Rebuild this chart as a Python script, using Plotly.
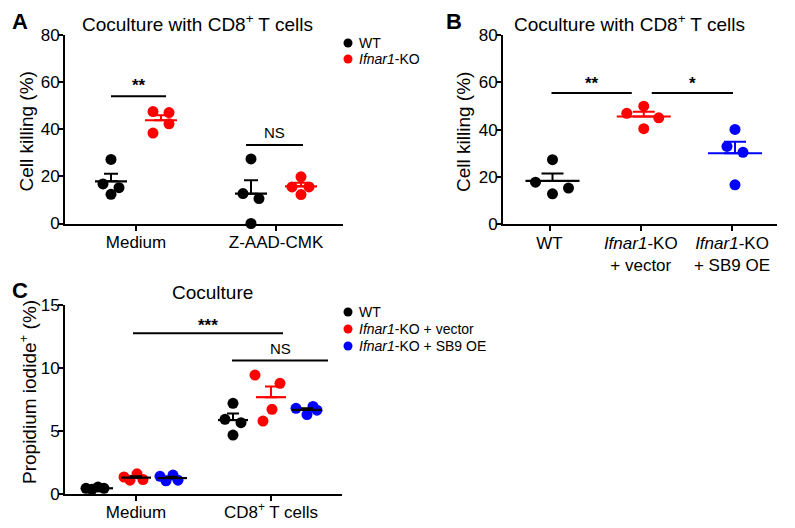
import numpy as np
import plotly.graph_objects as go

# ---------------- data ----------------
A_categories = ["Medium", "Z-AAD-CMK"]
A_series = ["WT", "<i>Ifnar1</i>-KO"]
A_wt = [[27.2, 16.8, 15.2, 12.4], [27.4, 12.7, 10.6, 0.0]]
A_ko = [[47.5, 47.1, 42.3, 38.4], [19.8, 15.5, 15.5, 12.3]]

B_categories = ["WT", "<i>Ifnar1</i>-KO<br>+ vector", "<i>Ifnar1</i>-KO<br>+ SB9 OE"]
B_values = [[27.3, 17.8, 15.3, 12.9], [49.9, 46.9, 45.0, 40.4], [40.1, 32.9, 30.4, 16.7]]

C_categories = ["Medium", "CD8<sup>+</sup> T cells"]
C_series = ["WT", "<i>Ifnar1</i>-KO + vector", "<i>Ifnar1</i>-KO + SB9 OE"]
C_wt = [[0.45, 0.37, 0.55, 0.45], [7.2, 5.93, 5.66, 4.68]]
C_vec = [[1.35, 1.1, 1.6, 1.15], [9.44, 8.78, 6.72, 5.79]]
C_sb9 = [[1.4, 1.05, 1.5, 1.1], [6.8, 6.95, 6.3, 6.65]]

# ---------------- style / layout ----------------
W, H = 795, 528
OFF = 8  # page body margin
FONT = "Arial, Liberation Sans, sans-serif"
BLACK, RED, BLUE = "#000000", "#ff0000", "#0000ff"


def px2x(p):
    return (p - OFF) / W


def px2y(p):
    return 1 - (p - OFF) / H


fig = go.Figure()


def setup_axes(idx, xpx, ypx, cat_px, cats, yrange, ytickvals):
    scale = (cat_px[-1] - cat_px[0]) / (len(cat_px) - 1)
    xr = [(xpx[0] - cat_px[0]) / scale, (xpx[1] - cat_px[0]) / scale]
    sfx = "" if idx == 1 else str(idx)
    common = dict(showline=True, linewidth=2, linecolor=BLACK, ticks="outside",
                  ticklen=5, tickwidth=2, tickcolor=BLACK, showgrid=False,
                  zeroline=False, fixedrange=True, automargin=False,
                  tickfont=dict(family=FONT, size=17, color=BLACK))
    fig.update_layout(**{
        "xaxis" + sfx: dict(domain=[px2x(xpx[0]), px2x(xpx[1])], range=xr,
                            tickvals=list(range(len(cats))), ticktext=cats,
                            anchor="y" + sfx, ticklabelstandoff=-3, **common),
        "yaxis" + sfx: dict(domain=[px2y(ypx[0]), px2y(ypx[1])], range=yrange,
                            tickvals=ytickvals, anchor="x" + sfx,
                            ticklabelstandoff=-5, **common),
    })
    return scale


def draw_group(idx, xc, vals, jitter_px, scale, color, line_color, half_line_px, cap_px, msize=11):
    sfx = "" if idx == 1 else str(idx)
    xs = [xc + j / scale for j in jitter_px]
    fig.add_trace(go.Scatter(x=xs, y=vals, mode="markers", cliponaxis=False,
                             marker=dict(size=msize, color=color, line=dict(width=0)),
                             xaxis="x" + sfx, yaxis="y" + sfx, showlegend=False,
                             hoverinfo="skip"))
    arr = np.array(vals, dtype=float)
    m = arr.mean()
    sem = arr.std(ddof=1) / np.sqrt(len(arr))
    hl = half_line_px / scale
    fig.add_trace(go.Scatter(x=[xc - hl, xc + hl], y=[m, m], mode="lines", cliponaxis=False,
                             line=dict(color=line_color, width=2.2),
                             xaxis="x" + sfx, yaxis="y" + sfx, showlegend=False,
                             hoverinfo="skip"))
    fig.add_trace(go.Scatter(x=[xc], y=[m], mode="markers", cliponaxis=False,
                             marker=dict(size=1, color="rgba(0,0,0,0)"),
                             error_y=dict(type="data", symmetric=False, array=[sem],
                                          arrayminus=[0], color=line_color,
                                          thickness=2, width=cap_px),
                             xaxis="x" + sfx, yaxis="y" + sfx, showlegend=False,
                             hoverinfo="skip"))


def sig_bar(idx, x0, x1, y, text, ty, tsize=17, bold=True):
    sfx = "" if idx == 1 else str(idx)
    fig.add_shape(type="line", x0=x0, x1=x1, y0=y, y1=y, xref="x" + sfx, yref="y" + sfx,
                  line=dict(color=BLACK, width=2))
    fig.add_annotation(x=(x0 + x1) / 2, y=ty, xref="x" + sfx, yref="y" + sfx,
                       text=("<b>%s</b>" % text) if bold else text, showarrow=False,
                       font=dict(family=FONT, size=tsize, color=BLACK),
                       xanchor="center", yanchor="middle")


def text_px(x, y, text, size, xanchor="center", angle=0):
    fig.add_annotation(x=px2x(x), y=px2y(y), xref="paper", yref="paper", text=text,
                       showarrow=False, textangle=angle,
                       font=dict(family=FONT, size=size, color=BLACK),
                       xanchor=xanchor, yanchor="middle")


def legend_px(x, y, label, color):
    fig.add_shape(type="circle", xref="paper", yref="paper", xsizemode="pixel",
                  ysizemode="pixel", xanchor=px2x(x), yanchor=px2y(y),
                  x0=-4.5, x1=4.5, y0=-4.5, y1=4.5,
                  fillcolor=color, line=dict(width=0))
    text_px(x + 9, y, label, 14, xanchor="left")


# ---------------- panel A ----------------
sA = setup_axes(1, (65, 343), (223.5, 35), (136, 276), A_categories, [0, 80], [0, 20, 40, 60, 80])
A_jit_wt = [[0, -8, 8, 0], [0, -8, 8, 0]]
A_jit_ko = [[-8, 8, 8, -8], [0, -9, 8, 0]]
for i in range(len(A_categories)):
    draw_group(1, i - 25 / sA, A_wt[i], A_jit_wt[i], sA, BLACK, BLACK, 16, 7)
    draw_group(1, i + 25 / sA, A_ko[i], A_jit_ko[i], sA, RED, RED, 16, 7)
sig_bar(1, 0 - 25 / sA, 0 + 30 / sA, 54, "**", 58.5)
sig_bar(1, 1 - 30 / sA, 1 + 27 / sA, 33.3, "NS", 38.8, tsize=15, bold=False)
text_px(197, 23, "Coculture with CD8<sup>+</sup> T cells", 19)
text_px(20, 22, "<b>A</b>", 22)
text_px(25.5, 132, "Cell killing (%)", 19, angle=-90)
legend_px(348, 43, A_series[0], BLACK)
legend_px(348, 59, A_series[1], RED)

# ---------------- panel B ----------------
sB = setup_axes(2, (503, 777), (224.3, 35), (549.5, 641, 732), B_categories, [0, 80], [0, 20, 40, 60, 80])
B_colors = [BLACK, RED, BLUE]
B_jit = [[0, -17, 16, 0], [0, -17, 15, 0], [0, -8, 8, 0]]
for i in range(len(B_categories)):
    draw_group(2, i + 3 / sB, B_values[i], B_jit[i], sB, B_colors[i], B_colors[i], 27, 11)
sig_bar(2, 0 + 2 / sB, 1 - 9 / sB, 55.5, "**", 59.5)
sig_bar(2, 1 + 11 / sB, 2 + 1 / sB, 55.5, "*", 59.5)
text_px(629, 23, "Coculture with CD8<sup>+</sup> T cells", 19)
text_px(454, 22, "<b>B</b>", 22)
text_px(463, 132, "Cell killing (%)", 19, angle=-90)

# ---------------- panel C ----------------
sC = setup_axes(3, (65, 342), (494, 305), (136, 271), C_categories, [0, 15], [0, 5, 10, 15])
C_all = [C_wt, C_vec, C_sb9]
C_colors = [BLACK, RED, BLUE]
C_offsets = [-38, 0, 36]
C_line_colors = [[BLACK, BLACK, BLACK], [BLACK, RED, BLACK]]
C_jit = [
    [[-12, -6, 0, 6], [-12, -6, 1, 7], [-12, -6, 1, 6]],
    [[0, -8, 8, 0], [-16, 9, 1, -8], [-11, 6, 0, 10]],
]
for i in range(len(C_categories)):
    for s in range(3):
        draw_group(3, i + C_offsets[s] / sC, C_all[s][i], C_jit[i][s], sC, C_colors[s],
                   C_line_colors[i][s], 15, 6)
sig_bar(3, 0 - 3 / sC, 1 + 12 / sC, 12.75, "***", 13.4)
sig_bar(3, 1 - 39 / sC, 1 + 57 / sC, 10.6, "NS", 11.55, tsize=15, bold=False)
text_px(212, 292, "Coculture", 19)
text_px(20, 290, "<b>C</b>", 22)
text_px(28, 392, "Propidium iodide<sup>+</sup> (%)", 19, angle=-90)
for s in range(3):
    legend_px(348, 312 + 17 * s, C_series[s], C_colors[s])

fig.update_layout(width=W, height=H, margin=dict(l=0, r=0, t=0, b=0),
                  paper_bgcolor="white", plot_bgcolor="white", showlegend=False,
                  template="none", font=dict(family=FONT, color=BLACK))
fig.write_html("out.html")
